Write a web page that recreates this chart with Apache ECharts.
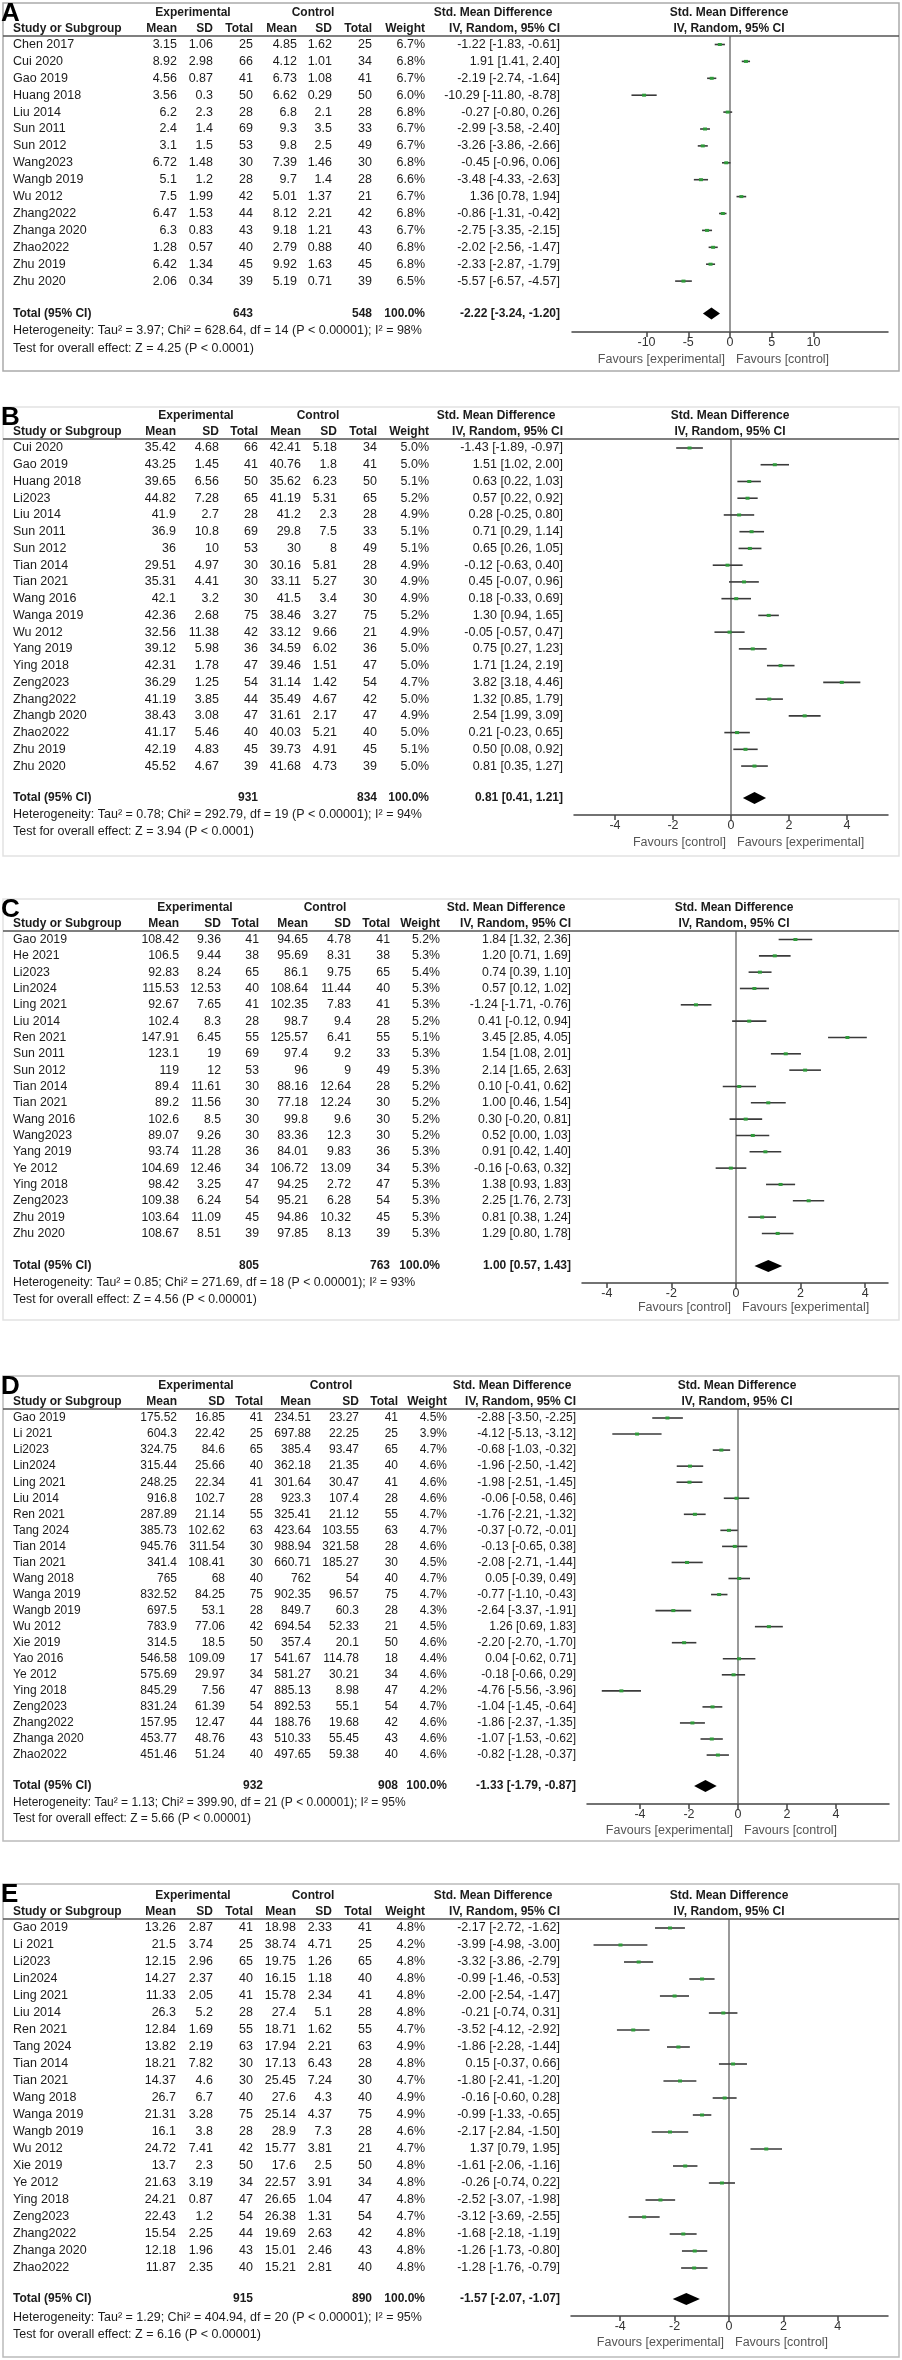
<!DOCTYPE html>
<html>
<head>
<meta charset="utf-8">
<script src="https://cdn.jsdelivr.net/npm/echarts@6/dist/echarts.min.js"></script>
<style>
  html, body { margin: 0; padding: 0; background: #fff; }
  #chart { width: 902px; height: 2360px; }
</style>
</head>
<body>
<div id="chart"></div>
<script>
// ---------- panel A ----------
const studiesA = ['Chen 2017', 'Cui 2020', 'Gao 2019', 'Huang 2018', 'Liu 2014', 'Sun 2011', 'Sun 2012', 'Wang2023', 'Wangb 2019', 'Wu 2012', 'Zhang2022', 'Zhanga 2020', 'Zhao2022', 'Zhu 2019', 'Zhu 2020'];
const expMeanA = [3.15, 8.92, 4.56, 3.56, 6.2, 2.4, 3.1, 6.72, 5.1, 7.5, 6.47, 6.3, 1.28, 6.42, 2.06];
const expSdA = [1.06, 2.98, 0.87, 0.3, 2.3, 1.4, 1.5, 1.48, 1.2, 1.99, 1.53, 0.83, 0.57, 1.34, 0.34];
const expNA = [25, 66, 41, 50, 28, 69, 53, 30, 28, 42, 44, 43, 40, 45, 39];
const ctlMeanA = [4.85, 4.12, 6.73, 6.62, 6.8, 9.3, 9.8, 7.39, 9.7, 5.01, 8.12, 9.18, 2.79, 9.92, 5.19];
const ctlSdA = [1.62, 1.01, 1.08, 0.29, 2.1, 3.5, 2.5, 1.46, 1.4, 1.37, 2.21, 1.21, 0.88, 1.63, 0.71];
const ctlNA = [25, 34, 41, 50, 28, 33, 49, 30, 28, 21, 42, 43, 40, 45, 39];
const weightA = [6.7, 6.8, 6.7, 6.0, 6.8, 6.7, 6.7, 6.8, 6.6, 6.7, 6.8, 6.7, 6.8, 6.8, 6.5];
const smdA = [-1.22, 1.91, -2.19, -10.29, -0.27, -2.99, -3.26, -0.45, -3.48, 1.36, -0.86, -2.75, -2.02, -2.33, -5.57];
const lowA = [-1.83, 1.41, -2.74, -11.80, -0.80, -3.58, -3.86, -0.96, -4.33, 0.78, -1.31, -3.35, -2.56, -2.87, -6.57];
const highA = [-0.61, 2.40, -1.64, -8.78, 0.26, -2.40, -2.66, 0.06, -2.63, 1.94, -0.42, -2.15, -1.47, -1.79, -4.57];
const totalA = [643, 548, -2.22, -3.24, -1.20];
const hetA = 'Heterogeneity: Tau² = 3.97; Chi² = 628.64, df = 14 (P < 0.00001); I² = 98%';
const testA = 'Test for overall effect: Z = 4.25 (P < 0.0001)';
const favoursA = ['Favours [experimental]', 'Favours [control]'];
const ticksA = [-10, -5, 0, 5, 10];

// ---------- panel B ----------
const studiesB = ['Cui 2020', 'Gao 2019', 'Huang 2018', 'Li2023', 'Liu 2014', 'Sun 2011', 'Sun 2012', 'Tian 2014', 'Tian 2021', 'Wang 2016', 'Wanga 2019', 'Wu 2012', 'Yang 2019', 'Ying 2018', 'Zeng2023', 'Zhang2022', 'Zhangb 2020', 'Zhao2022', 'Zhu 2019', 'Zhu 2020'];
const expMeanB = [35.42, 43.25, 39.65, 44.82, 41.9, 36.9, 36, 29.51, 35.31, 42.1, 42.36, 32.56, 39.12, 42.31, 36.29, 41.19, 38.43, 41.17, 42.19, 45.52];
const expSdB = [4.68, 1.45, 6.56, 7.28, 2.7, 10.8, 10, 4.97, 4.41, 3.2, 2.68, 11.38, 5.98, 1.78, 1.25, 3.85, 3.08, 5.46, 4.83, 4.67];
const expNB = [66, 41, 50, 65, 28, 69, 53, 30, 30, 30, 75, 42, 36, 47, 54, 44, 47, 40, 45, 39];
const ctlMeanB = [42.41, 40.76, 35.62, 41.19, 41.2, 29.8, 30, 30.16, 33.11, 41.5, 38.46, 33.12, 34.59, 39.46, 31.14, 35.49, 31.61, 40.03, 39.73, 41.68];
const ctlSdB = [5.18, 1.8, 6.23, 5.31, 2.3, 7.5, 8, 5.81, 5.27, 3.4, 3.27, 9.66, 6.02, 1.51, 1.42, 4.67, 2.17, 5.21, 4.91, 4.73];
const ctlNB = [34, 41, 50, 65, 28, 33, 49, 28, 30, 30, 75, 21, 36, 47, 54, 42, 47, 40, 45, 39];
const weightB = [5.0, 5.0, 5.1, 5.2, 4.9, 5.1, 5.1, 4.9, 4.9, 4.9, 5.2, 4.9, 5.0, 5.0, 4.7, 5.0, 4.9, 5.0, 5.1, 5.0];
const smdB = [-1.43, 1.51, 0.63, 0.57, 0.28, 0.71, 0.65, -0.12, 0.45, 0.18, 1.30, -0.05, 0.75, 1.71, 3.82, 1.32, 2.54, 0.21, 0.50, 0.81];
const lowB = [-1.89, 1.02, 0.22, 0.22, -0.25, 0.29, 0.26, -0.63, -0.07, -0.33, 0.94, -0.57, 0.27, 1.24, 3.18, 0.85, 1.99, -0.23, 0.08, 0.35];
const highB = [-0.97, 2.00, 1.03, 0.92, 0.80, 1.14, 1.05, 0.40, 0.96, 0.69, 1.65, 0.47, 1.23, 2.19, 4.46, 1.79, 3.09, 0.65, 0.92, 1.27];
const totalB = [931, 834, 0.81, 0.41, 1.21];
const hetB = 'Heterogeneity: Tau² = 0.78; Chi² = 292.79, df = 19 (P < 0.00001); I² = 94%';
const testB = 'Test for overall effect: Z = 3.94 (P < 0.0001)';
const favoursB = ['Favours [control]', 'Favours [experimental]'];
const ticksB = [-4, -2, 0, 2, 4];

// ---------- panel C ----------
const studiesC = ['Gao 2019', 'He 2021', 'Li2023', 'Lin2024', 'Ling 2021', 'Liu 2014', 'Ren 2021', 'Sun 2011', 'Sun 2012', 'Tian 2014', 'Tian 2021', 'Wang 2016', 'Wang2023', 'Yang 2019', 'Ye 2012', 'Ying 2018', 'Zeng2023', 'Zhu 2019', 'Zhu 2020'];
const expMeanC = [108.42, 106.5, 92.83, 115.53, 92.67, 102.4, 147.91, 123.1, 119, 89.4, 89.2, 102.6, 89.07, 93.74, 104.69, 98.42, 109.38, 103.64, 108.67];
const expSdC = [9.36, 9.44, 8.24, 12.53, 7.65, 8.3, 6.45, 19, 12, 11.61, 11.56, 8.5, 9.26, 11.28, 12.46, 3.25, 6.24, 11.09, 8.51];
const expNC = [41, 38, 65, 40, 41, 28, 55, 69, 53, 30, 30, 30, 30, 36, 34, 47, 54, 45, 39];
const ctlMeanC = [94.65, 95.69, 86.1, 108.64, 102.35, 98.7, 125.57, 97.4, 96, 88.16, 77.18, 99.8, 83.36, 84.01, 106.72, 94.25, 95.21, 94.86, 97.85];
const ctlSdC = [4.78, 8.31, 9.75, 11.44, 7.83, 9.4, 6.41, 9.2, 9, 12.64, 12.24, 9.6, 12.3, 9.83, 13.09, 2.72, 6.28, 10.32, 8.13];
const ctlNC = [41, 38, 65, 40, 41, 28, 55, 33, 49, 28, 30, 30, 30, 36, 34, 47, 54, 45, 39];
const weightC = [5.2, 5.3, 5.4, 5.3, 5.3, 5.2, 5.1, 5.3, 5.3, 5.2, 5.2, 5.2, 5.2, 5.3, 5.3, 5.3, 5.3, 5.3, 5.3];
const smdC = [1.84, 1.20, 0.74, 0.57, -1.24, 0.41, 3.45, 1.54, 2.14, 0.10, 1.00, 0.30, 0.52, 0.91, -0.16, 1.38, 2.25, 0.81, 1.29];
const lowC = [1.32, 0.71, 0.39, 0.12, -1.71, -0.12, 2.85, 1.08, 1.65, -0.41, 0.46, -0.20, 0.00, 0.42, -0.63, 0.93, 1.76, 0.38, 0.80];
const highC = [2.36, 1.69, 1.10, 1.02, -0.76, 0.94, 4.05, 2.01, 2.63, 0.62, 1.54, 0.81, 1.03, 1.40, 0.32, 1.83, 2.73, 1.24, 1.78];
const totalC = [805, 763, 1.00, 0.57, 1.43];
const hetC = 'Heterogeneity: Tau² = 0.85; Chi² = 271.69, df = 18 (P < 0.00001); I² = 93%';
const testC = 'Test for overall effect: Z = 4.56 (P < 0.00001)';
const favoursC = ['Favours [control]', 'Favours [experimental]'];
const ticksC = [-4, -2, 0, 2, 4];

// ---------- panel D ----------
const studiesD = ['Gao 2019', 'Li 2021', 'Li2023', 'Lin2024', 'Ling 2021', 'Liu 2014', 'Ren 2021', 'Tang 2024', 'Tian 2014', 'Tian 2021', 'Wang 2018', 'Wanga 2019', 'Wangb 2019', 'Wu 2012', 'Xie 2019', 'Yao 2016', 'Ye 2012', 'Ying 2018', 'Zeng2023', 'Zhang2022', 'Zhanga 2020', 'Zhao2022'];
const expMeanD = [175.52, 604.3, 324.75, 315.44, 248.25, 916.8, 287.89, 385.73, 945.76, 341.4, 765, 832.52, 697.5, 783.9, 314.5, 546.58, 575.69, 845.29, 831.24, 157.95, 453.77, 451.46];
const expSdD = [16.85, 22.42, 84.6, 25.66, 22.34, 102.7, 21.14, 102.62, 311.54, 108.41, 68, 84.25, 53.1, 77.06, 18.5, 109.09, 29.97, 7.56, 61.39, 12.47, 48.76, 51.24];
const expND = [41, 25, 65, 40, 41, 28, 55, 63, 30, 30, 40, 75, 28, 42, 50, 17, 34, 47, 54, 44, 43, 40];
const ctlMeanD = [234.51, 697.88, 385.4, 362.18, 301.64, 923.3, 325.41, 423.64, 988.94, 660.71, 762, 902.35, 849.7, 694.54, 357.4, 541.67, 581.27, 885.13, 892.53, 188.76, 510.33, 497.65];
const ctlSdD = [23.27, 22.25, 93.47, 21.35, 30.47, 107.4, 21.12, 103.55, 321.58, 185.27, 54, 96.57, 60.3, 52.33, 20.1, 114.78, 30.21, 8.98, 55.1, 19.68, 55.45, 59.38];
const ctlND = [41, 25, 65, 40, 41, 28, 55, 63, 28, 30, 40, 75, 28, 21, 50, 18, 34, 47, 54, 42, 43, 40];
const weightD = [4.5, 3.9, 4.7, 4.6, 4.6, 4.6, 4.7, 4.7, 4.6, 4.5, 4.7, 4.7, 4.3, 4.5, 4.6, 4.4, 4.6, 4.2, 4.7, 4.6, 4.6, 4.6];
const smdD = [-2.88, -4.12, -0.68, -1.96, -1.98, -0.06, -1.76, -0.37, -0.13, -2.08, 0.05, -0.77, -2.64, 1.26, -2.20, 0.04, -0.18, -4.76, -1.04, -1.86, -1.07, -0.82];
const lowD = [-3.50, -5.13, -1.03, -2.50, -2.51, -0.58, -2.21, -0.72, -0.65, -2.71, -0.39, -1.10, -3.37, 0.69, -2.70, -0.62, -0.66, -5.56, -1.45, -2.37, -1.53, -1.28];
const highD = [-2.25, -3.12, -0.32, -1.42, -1.45, 0.46, -1.32, -0.01, 0.38, -1.44, 0.49, -0.43, -1.91, 1.83, -1.70, 0.71, 0.29, -3.96, -0.64, -1.35, -0.62, -0.37];
const totalD = [932, 908, -1.33, -1.79, -0.87];
const hetD = 'Heterogeneity: Tau² = 1.13; Chi² = 399.90, df = 21 (P < 0.00001); I² = 95%';
const testD = 'Test for overall effect: Z = 5.66 (P < 0.00001)';
const favoursD = ['Favours [experimental]', 'Favours [control]'];
const ticksD = [-4, -2, 0, 2, 4];

// ---------- panel E ----------
const studiesE = ['Gao 2019', 'Li 2021', 'Li2023', 'Lin2024', 'Ling 2021', 'Liu 2014', 'Ren 2021', 'Tang 2024', 'Tian 2014', 'Tian 2021', 'Wang 2018', 'Wanga 2019', 'Wangb 2019', 'Wu 2012', 'Xie 2019', 'Ye 2012', 'Ying 2018', 'Zeng2023', 'Zhang2022', 'Zhanga 2020', 'Zhao2022'];
const expMeanE = [13.26, 21.5, 12.15, 14.27, 11.33, 26.3, 12.84, 13.82, 18.21, 14.37, 26.7, 21.31, 16.1, 24.72, 13.7, 21.63, 24.21, 22.43, 15.54, 12.18, 11.87];
const expSdE = [2.87, 3.74, 2.96, 2.37, 2.05, 5.2, 1.69, 2.19, 7.82, 4.6, 6.7, 3.28, 3.8, 7.41, 2.3, 3.19, 0.87, 1.2, 2.25, 1.96, 2.35];
const expNE = [41, 25, 65, 40, 41, 28, 55, 63, 30, 30, 40, 75, 28, 42, 50, 34, 47, 54, 44, 43, 40];
const ctlMeanE = [18.98, 38.74, 19.75, 16.15, 15.78, 27.4, 18.71, 17.94, 17.13, 25.45, 27.6, 25.14, 28.9, 15.77, 17.6, 22.57, 26.65, 26.38, 19.69, 15.01, 15.21];
const ctlSdE = [2.33, 4.71, 1.26, 1.18, 2.34, 5.1, 1.62, 2.21, 6.43, 7.24, 4.3, 4.37, 7.3, 3.81, 2.5, 3.91, 1.04, 1.31, 2.63, 2.46, 2.81];
const ctlNE = [41, 25, 65, 40, 41, 28, 55, 63, 28, 30, 40, 75, 28, 21, 50, 34, 47, 54, 42, 43, 40];
const weightE = [4.8, 4.2, 4.8, 4.8, 4.8, 4.8, 4.7, 4.9, 4.8, 4.7, 4.9, 4.9, 4.6, 4.7, 4.8, 4.8, 4.8, 4.7, 4.8, 4.8, 4.8];
const smdE = [-2.17, -3.99, -3.32, -0.99, -2.00, -0.21, -3.52, -1.86, 0.15, -1.80, -0.16, -0.99, -2.17, 1.37, -1.61, -0.26, -2.52, -3.12, -1.68, -1.26, -1.28];
const lowE = [-2.72, -4.98, -3.86, -1.46, -2.54, -0.74, -4.12, -2.28, -0.37, -2.41, -0.60, -1.33, -2.84, 0.79, -2.06, -0.74, -3.07, -3.69, -2.18, -1.73, -1.76];
const highE = [-1.62, -3.00, -2.79, -0.53, -1.47, 0.31, -2.92, -1.44, 0.66, -1.20, 0.28, -0.65, -1.50, 1.95, -1.16, 0.22, -1.98, -2.55, -1.19, -0.80, -0.79];
const totalE = [915, 890, -1.57, -2.07, -1.07];
const hetE = 'Heterogeneity: Tau² = 1.29; Chi² = 404.94, df = 20 (P < 0.00001); I² = 95%';
const testE = 'Test for overall effect: Z = 6.16 (P < 0.00001)';
const favoursE = ['Favours [experimental]', 'Favours [control]'];
const ticksE = [-4, -2, 0, 2, 4];

const headTop = ['Experimental', 'Control', 'Std. Mean Difference'];
const headCols = ['Study or Subgroup', 'Mean', 'SD', 'Total', 'Mean', 'SD', 'Total', 'Weight', 'IV, Random, 95% CI'];
const plotHead = ['Std. Mean Difference', 'IV, Random, 95% CI'];

const layouts = [
  { letter: 'A', top: 3, bottom: 371, line: 36, first: 44.5, rowH: 16.9, total: 313.5, het: 331, test: 349, axisY: 332, favY: 360,
    axisL: 572, axisR: 888, zero: 730, unit: 8.35, cols: [13, 177, 213, 253, 297, 332, 372, 425, 560], expC: 193, ctlC: 313, smdC: 493, plotC: 729, font: 12.5, box: '#aaa' },
  { letter: 'B', top: 407, bottom: 856, line: 439, first: 448, rowH: 16.74, total: 798, het: 815, test: 832, axisY: 815, favY: 843,
    axisL: 574, axisR: 888, zero: 731, unit: 29, cols: [13, 176, 219, 258, 301, 337, 377, 429, 563], expC: 196, ctlC: 318, smdC: 496, plotC: 730, font: 12.5, box: '#e2e2e2' },
  { letter: 'C', top: 899, bottom: 1320, line: 931, first: 939.5, rowH: 16.33, total: 1266, het: 1283, test: 1299.5, axisY: 1283, favY: 1308,
    axisL: 582, axisR: 888, zero: 736, unit: 32.3, cols: [13, 179, 221, 259, 308, 351, 390, 440, 571], expC: 195, ctlC: 325, smdC: 506, plotC: 734, font: 12.3, box: '#e2e2e2' },
  { letter: 'D', top: 1376, bottom: 1841, line: 1409, first: 1418, rowH: 16.05, total: 1786, het: 1803, test: 1819, axisY: 1804, favY: 1831,
    axisL: 587, axisR: 889, zero: 738, unit: 24.5, cols: [13, 177, 225, 263, 311, 359, 398, 447, 576], expC: 196, ctlC: 331, smdC: 512, plotC: 737, font: 12, box: '#bbb' },
  { letter: 'E', top: 1884, bottom: 2357, line: 1919, first: 1928, rowH: 17, total: 2299, het: 2318, test: 2335, axisY: 2316, favY: 2343,
    axisL: 571, axisR: 888, zero: 729, unit: 27.2, cols: [13, 176, 213, 253, 296, 332, 372, 425, 560], expC: 193, ctlC: 313, smdC: 493, plotC: 729, font: 12.5, box: '#bbb' }
];

const panelData = [
  { studies: studiesA, expMean: expMeanA, expSd: expSdA, expN: expNA, ctlMean: ctlMeanA, ctlSd: ctlSdA, ctlN: ctlNA, weight: weightA, smd: smdA, low: lowA, high: highA, total: totalA, het: hetA, test: testA, favours: favoursA, ticks: ticksA },
  { studies: studiesB, expMean: expMeanB, expSd: expSdB, expN: expNB, ctlMean: ctlMeanB, ctlSd: ctlSdB, ctlN: ctlNB, weight: weightB, smd: smdB, low: lowB, high: highB, total: totalB, het: hetB, test: testB, favours: favoursB, ticks: ticksB },
  { studies: studiesC, expMean: expMeanC, expSd: expSdC, expN: expNC, ctlMean: ctlMeanC, ctlSd: ctlSdC, ctlN: ctlNC, weight: weightC, smd: smdC, low: lowC, high: highC, total: totalC, het: hetC, test: testC, favours: favoursC, ticks: ticksC },
  { studies: studiesD, expMean: expMeanD, expSd: expSdD, expN: expND, ctlMean: ctlMeanD, ctlSd: ctlSdD, ctlN: ctlND, weight: weightD, smd: smdD, low: lowD, high: highD, total: totalD, het: hetD, test: testD, favours: favoursD, ticks: ticksD },
  { studies: studiesE, expMean: expMeanE, expSd: expSdE, expN: expNE, ctlMean: ctlMeanE, ctlSd: ctlSdE, ctlN: ctlNE, weight: weightE, smd: smdE, low: lowE, high: highE, total: totalE, het: hetE, test: testE, favours: favoursE, ticks: ticksE }
];

const FAMILY = '"Liberation Sans", Arial, Helvetica, sans-serif';
const TEXT = '#1b1b1b';

function ci(est, lo, hi) {
  return est.toFixed(2) + ' [' + lo.toFixed(2) + ', ' + hi.toFixed(2) + ']';
}

function txt(x, y, text, opts) {
  opts = opts || {};
  const align = opts.align || 'left';
  const vAlign = opts.vAlign || 'middle';
  return {
    type: 'text',
    x: x,
    y: y,
    silent: true,
    style: {
      text: text,
      font: (opts.bold ? 'bold ' : '') + (opts.size || 12.5) + 'px ' + FAMILY,
      fill: opts.color || TEXT,
      textAlign: align,
      align: align,
      textVerticalAlign: vAlign,
      verticalAlign: vAlign
    }
  };
}

function renderRow(params, api) {
  const y = api.value(3);
  const lo = api.coord([api.value(1), y]);
  const hi = api.coord([api.value(2), y]);
  const mid = api.coord([api.value(0), y]);
  return {
    type: 'group',
    children: [
      { type: 'line', shape: { x1: lo[0], y1: lo[1], x2: hi[0], y2: hi[1] }, style: { stroke: '#3a3a3a', lineWidth: 1.6 } },
      { type: 'rect', shape: { x: mid[0] - 2, y: mid[1] - 1.5, width: 4, height: 3 }, style: { fill: '#2f9a3a' } }
    ]
  };
}

function renderDiamond(params, api) {
  const y = api.value(3);
  const lo = api.coord([api.value(1), y]);
  const hi = api.coord([api.value(2), y]);
  const mid = api.coord([api.value(0), y]);
  const h = 6;
  return {
    type: 'polygon',
    shape: { points: [[lo[0], lo[1]], [mid[0], mid[1] - h], [hi[0], hi[1]], [mid[0], mid[1] + h]] },
    style: { fill: '#000' }
  };
}

const grids = [], xAxes = [], yAxes = [], series = [], graphics = [];

layouts.forEach((p, i) => {
  const d = panelData[i];
  const min = (p.axisL - p.zero) / p.unit;
  const max = (p.axisR - p.zero) / p.unit;
  const yMin = (p.line - p.first) / p.rowH;
  const yMax = (p.axisY - p.first) / p.rowH;
  grids.push({ left: p.axisL, width: p.axisR - p.axisL, top: p.line, height: p.axisY - p.line });

  xAxes.push({
    gridIndex: i, type: 'value', min: min, max: max, position: 'bottom',
    axisLine: { show: true, onZero: false, lineStyle: { color: '#444', width: 1.5 } },
    axisTick: { show: true, customValues: d.ticks, length: 5, lineStyle: { color: '#444', width: 1.5 } },
    axisLabel: { show: true, customValues: d.ticks, margin: 4, fontSize: 12.5, color: '#333', fontFamily: FAMILY },
    splitLine: { show: false }
  });
  yAxes.push({ gridIndex: i, type: 'value', inverse: true, show: false, min: yMin, max: yMax });

  // line of no effect
  series.push({
    type: 'line', xAxisIndex: i, yAxisIndex: i, silent: true, symbol: 'none', z: 1,
    lineStyle: { color: '#555', width: 1.2 },
    data: [[0, yMin], [0, yMax]]
  });
  series.push({
    type: 'custom', xAxisIndex: i, yAxisIndex: i, clip: false, z: 3,
    renderItem: renderRow,
    encode: { x: [0, 1, 2], y: 3 },
    data: d.smd.map((v, k) => [v, d.low[k], d.high[k], k])
  });
  series.push({
    type: 'custom', xAxisIndex: i, yAxisIndex: i, clip: false, z: 3,
    renderItem: renderDiamond,
    encode: { x: [0, 1, 2], y: 3 },
    data: [[d.total[2], d.total[3], d.total[4], (p.total - p.first) / p.rowH]]
  });

  // frame and header rule
  graphics.push({ type: 'rect', silent: true, z: -1, shape: { x: 3, y: p.top, width: 896, height: p.bottom - p.top }, style: { fill: 'none', stroke: p.box, lineWidth: 1.5 } });
  graphics.push({ type: 'line', silent: true, shape: { x1: 3, y1: p.line, x2: 899, y2: p.line }, style: { stroke: '#555', lineWidth: 1.5 } });

  // header text
  const h1 = p.line - 23, h2 = p.line - 7, hs = 12;
  graphics.push(txt(p.expC, h1, headTop[0], { align: 'center', bold: true, size: hs }));
  graphics.push(txt(p.ctlC, h1, headTop[1], { align: 'center', bold: true, size: hs }));
  graphics.push(txt(p.smdC, h1, headTop[2], { align: 'center', bold: true, size: hs }));
  headCols.forEach((t, c) => {
    graphics.push(txt(p.cols[c], h2, t, { align: c === 0 ? 'left' : 'right', bold: true, size: hs }));
  });
  graphics.push(txt(p.plotC, h1, plotHead[0], { align: 'center', bold: true, size: hs }));
  graphics.push(txt(p.plotC, h2, plotHead[1], { align: 'center', bold: true, size: hs }));
  graphics.push(txt(1, p.top - 2, p.letter, { bold: true, size: 26, vAlign: 'top', color: '#000' }));

  // study rows
  d.studies.forEach((name, k) => {
    const y = p.first + k * p.rowH;
    const cells = [name, String(d.expMean[k]), String(d.expSd[k]), String(d.expN[k]),
      String(d.ctlMean[k]), String(d.ctlSd[k]), String(d.ctlN[k]),
      d.weight[k].toFixed(1) + '%', ci(d.smd[k], d.low[k], d.high[k])];
    cells.forEach((t, c) => {
      graphics.push(txt(p.cols[c], y, t, { align: c === 0 ? 'left' : 'right', size: p.font }));
    });
  });

  // total and footnotes
  const tb = { bold: true, size: hs, align: 'right' };
  graphics.push(txt(p.cols[0], p.total, 'Total (95% CI)', { bold: true, size: hs }));
  graphics.push(txt(p.cols[3], p.total, String(d.total[0]), tb));
  graphics.push(txt(p.cols[6], p.total, String(d.total[1]), tb));
  graphics.push(txt(p.cols[7], p.total, '100.0%', tb));
  graphics.push(txt(p.cols[8], p.total, ci(d.total[2], d.total[3], d.total[4]), tb));
  graphics.push(txt(p.cols[0], p.het, d.het, { size: p.font }));
  graphics.push(txt(p.cols[0], p.test, d.test, { size: p.font }));

  // favours labels under the axis
  graphics.push(txt(p.zero - 5, p.favY, d.favours[0], { align: 'right', size: 12.5, color: '#555' }));
  graphics.push(txt(p.zero + 6, p.favY, d.favours[1], { align: 'left', size: 12.5, color: '#555' }));
});

const chart = echarts.init(document.getElementById('chart'), null, { renderer: 'canvas' });
chart.setOption({
  backgroundColor: '#fff',
  animation: false,
  grid: grids,
  xAxis: xAxes,
  yAxis: yAxes,
  series: series,
  graphic: { elements: graphics }
});
</script>
</body>
</html>
